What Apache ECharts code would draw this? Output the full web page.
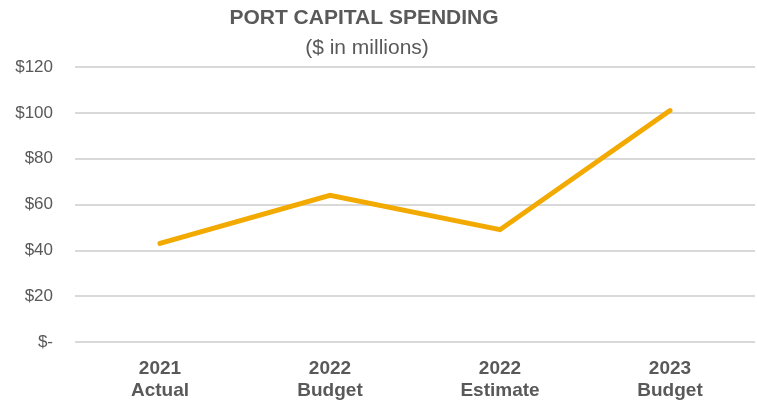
<!DOCTYPE html>
<html>
<head>
<meta charset="utf-8">
<script src="https://cdn.jsdelivr.net/npm/echarts@6/dist/echarts.min.js"></script>
<style>
  html, body { margin: 0; padding: 0; background: #fff; }
  #chart { width: 757px; height: 404px; }
</style>
</head>
<body>
<div id="chart"></div>
<script>
// Port capital spending, $ in millions
const categories = ['2021\nActual', '2022\nBudget', '2022\nEstimate', '2023\nBudget'];
const spending = [43, 64, 49, 101];
const yTicks = [0, 20, 40, 60, 80, 100, 120];

const FONT = 'Liberation Sans, Arial, sans-serif';
const chart = echarts.init(document.getElementById('chart'));
chart.setOption({
  animation: false,
  title: [{
    text: 'PORT CAPITAL SPENDING',
    left: 359, top: 3, textAlign: 'center',
    textStyle: { fontFamily: FONT, fontSize: 21, fontWeight: 'bold', color: '#595959' }
  }, {
    text: '($ in millions)',
    left: 362, top: 33, textAlign: 'center',
    textStyle: { fontFamily: FONT, fontSize: 21, fontWeight: 'normal', color: '#595959' }
  }],
  grid: { left: 75, right: 2, top: 67, bottom: 62 },
  xAxis: {
    type: 'category',
    data: categories,
    boundaryGap: true,
    axisLine: { show: false },
    axisTick: { show: false },
    axisLabel: {
      margin: 16, lineHeight: 22,
      fontFamily: FONT, fontSize: 19, fontWeight: 'bold', color: '#595959'
    }
  },
  yAxis: {
    type: 'value',
    min: yTicks[0], max: yTicks[yTicks.length - 1], interval: 20,
    axisLine: { show: false },
    axisTick: { show: false },
    splitLine: { lineStyle: { color: '#d9d9d9', width: 2 } },
    axisLabel: {
      margin: 22,
      fontFamily: FONT, fontSize: 17, color: '#595959',
      formatter: v => v === 0 ? '$-' : '$' + v
    }
  },
  series: [{
    type: 'line',
    data: spending,
    symbol: 'none',
    lineStyle: { color: '#F2A900', width: 5, cap: 'round', join: 'miter' }
  }]
});
</script>
</body>
</html>
